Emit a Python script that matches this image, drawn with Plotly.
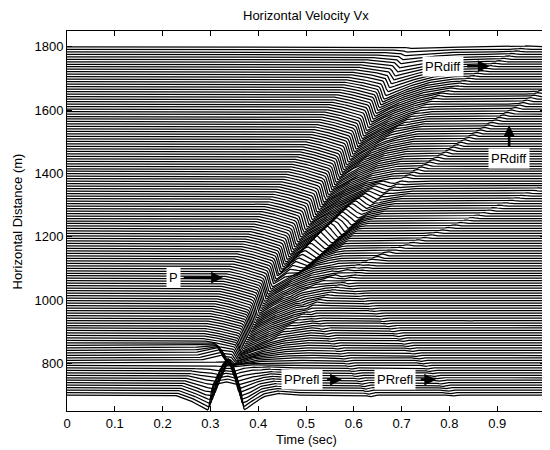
import numpy as np
import plotly.graph_objects as go

# ---------------- values ----------------
TITLE = "Horizontal Velocity Vx"
X_LABEL = "Time (sec)"
Y_LABEL = "Horizontal Distance (m)"
X_TICKS = [0, 0.1, 0.2, 0.3, 0.4, 0.5, 0.6, 0.7, 0.8, 0.9, 1.0]
X_TICK_TEXT = ["0", "0.1", "0.2", "0.3", "0.4", "0.5", "0.6", "0.7", "0.8", "0.9", "1"]
Y_TICKS = [800, 1000, 1200, 1400, 1600, 1800]
Y_TICK_TEXT = ["800", "1000", "1200", "1400", "1600", "1800"]

# receiver traces
TRACE_FIRST = 700.0
TRACE_LAST = 1800.0
TRACE_COUNT = 141
TIME_END = 1.0
TIME_STEP = 0.002

# direct P (above the interface at 800 m): time of the sharp edge per distance
P_DIST = [800, 850, 900, 1000, 1100, 1200, 1300, 1400, 1500, 1600, 1700, 1750, 1780, 1800]
P_TIME = [0.338, 0.350, 0.362, 0.386, 0.416, 0.452, 0.492, 0.537, 0.577, 0.618, 0.660, 0.685, 0.700, 0.712]
P_AMP = [0, 40, 65, 80, 85, 85, 85, 85, 85, 80, 65, 35, 15, 5]

# below the interface: incident and reflected arms
LOW_DIST = [700, 800]
LOW_T_INC = [0.300, 0.338]
LOW_T_REF = [0.366, 0.338]
LOW_AMP_DIST = [700, 750, 785, 800]
LOW_AMP = [50, 46, 32, 0]

# just above the interface: mirrored (up-going) arm
UP_DIST = [800, 860]
UP_T_REFL = [0.338, 0.313]
UP_AMP_DIST = [800, 810, 830, 855, 875]
UP_AMP = [0, 22, 28, 12, 0]

# thinner events: (distance picks, time picks, amplitude picks)
PRDIFF_UP_DIST = [1470, 1620, 1750, 1800]
PRDIFF_UP_TIME = [0.600, 0.750, 0.900, 0.960]
PRDIFF_UP_AMP = [3, 4, 4, 3]

PRDIFF_LO_DIST = [1150, 1320, 1470, 1665]
PRDIFF_LO_TIME = [0.440, 0.640, 0.800, 1.000]
PRDIFF_LO_AMP = [6, 6, 6, 5]

PRDIFF_3_DIST = [1040, 1140, 1240, 1360]
PRDIFF_3_TIME = [0.500, 0.660, 0.820, 1.000]
PRDIFF_3_AMP = [4, 4, 4, 3]

UPLINE_DIST = [890, 1000, 1120, 1240]
UPLINE_TIME = [0.430, 0.530, 0.640, 0.750]
UPLINE_AMP = [4, 4, 3, 2]

PPREFL_DIST = [700, 800, 900, 1000, 1080]
PPREFL_TIME = [0.635, 0.588, 0.540, 0.490, 0.455]
PPREFL_AMP = [-5, -4, -4, -4, -3]

PRREFL_DIST = [700, 800, 900, 1030, 1120]
PRREFL_TIME = [0.805, 0.745, 0.685, 0.600, 0.550]
PRREFL_AMP = [-4, -4, -4, -3, -3]

FAINT1_DIST = [945, 1030, 1113]
FAINT1_TIME = [1.000, 0.860, 0.720]
FAINT1_AMP = [-2.5, -2.5, -2.5]

FAINT2_DIST = [819, 900, 996]
FAINT2_TIME = [1.000, 0.890, 0.757]
FAINT2_AMP = [-2.5, -2.5, -2.5]

FLOWER_DIST = [1130, 1190, 1250, 1320, 1380]
FLOWER_TIME = [0.462, 0.512, 0.562, 0.622, 0.672]
FLOWER_AMP = [15, 45, 50, 38, 10]

# annotations (label, text position, arrow tail, arrow head) in data units
LABELS = [
    ("PRdiff", (0.787, 1739)),
    ("PRdiff", (0.924, 1447)),
    ("P", (0.223, 1071)),
    ("PPrefl", (0.491, 749)),
    ("PRrefl", (0.686, 749)),
]
ARROWS = [
    ((0.834, 1739), (0.884, 1739)),
    ((0.925, 1482), (0.925, 1552)),
    ((0.241, 1071), (0.326, 1071)),
    ((0.541, 749), (0.575, 749)),
    ((0.737, 749), (0.772, 749)),
]

# ---------------- wavelet shapes ----------------
PW_TAU = [-0.085, -0.065, -0.035, -0.004, 0.003, 0.04, 0.09, 0.14]
PW_VAL = [0, -0.06, -0.2, -0.38, -1.0, -0.6, -0.2, 0]
I_TAU = [-0.075, -0.045, -0.02, -0.003, 0.003, 0.03, 0.07]
I_VAL = [0, -0.3, -0.7, -1.0, 0.55, 0.45, 0]
R_TAU = [-0.07, -0.03, -0.003, 0.003, 0.02, 0.045, 0.075, 0.11]
R_VAL = [0, 0.45, 0.55, -1.0, -0.6, -0.1, 0.12, 0]
U_TAU = [-0.06, -0.03, -0.003, 0.003, 0.03, 0.06]
U_VAL = [0, 0.45, 1.0, -0.5, -0.3, 0]
F_TAU = [-0.04, -0.012, 0.012, 0.035, 0.07]
F_VAL = [0, 0.35, -0.65, -0.3, 0]


def shape(tau, kt, kv):
    return np.interp(tau, kt, kv, left=0.0, right=0.0)


def bump(tau, sigma=0.005):
    u = tau / sigma
    return np.exp(-0.5 * u * u)


def event_at(y, dist, times, amps):
    if y < dist[0] - 1e-9 or y > dist[-1] + 1e-9:
        return None
    return float(np.interp(y, dist, times)), float(np.interp(y, dist, amps))


THIN = [
    (PRDIFF_UP_DIST, PRDIFF_UP_TIME, PRDIFF_UP_AMP),
    (PRDIFF_LO_DIST, PRDIFF_LO_TIME, PRDIFF_LO_AMP),
    (PRDIFF_3_DIST, PRDIFF_3_TIME, PRDIFF_3_AMP),
    (UPLINE_DIST, UPLINE_TIME, UPLINE_AMP),
    (PPREFL_DIST, PPREFL_TIME, PPREFL_AMP),
    (PRREFL_DIST, PRREFL_TIME, PRREFL_AMP),
    (FAINT1_DIST, FAINT1_TIME, FAINT1_AMP),
    (FAINT2_DIST, FAINT2_TIME, FAINT2_AMP),
]

t = np.arange(0.0, TIME_END + TIME_STEP / 2, TIME_STEP)
dists = np.linspace(TRACE_FIRST, TRACE_LAST, TRACE_COUNT)
kern = np.exp(-0.5 * (np.arange(-4, 5) / 1.0) ** 2)
kern /= kern.sum()

xs, ys = [], []
for y in dists:
    s = np.zeros_like(t)
    if y < 800:
        ta = float(np.interp(y, LOW_DIST, LOW_T_INC))
        tb = float(np.interp(y, LOW_DIST, LOW_T_REF))
        a = float(np.interp(y, LOW_AMP_DIST, LOW_AMP))
        s += a * (shape(t - ta, I_TAU, I_VAL) + shape(t - tb, R_TAU, R_VAL))
    else:
        ev = event_at(y, P_DIST, P_TIME, P_AMP)
        if ev:
            s += ev[1] * shape(t - ev[0], PW_TAU, PW_VAL)
        if y <= UP_AMP_DIST[-1]:
            tu = float(np.interp(y, UP_DIST, UP_T_REFL))
            au = float(np.interp(y, UP_AMP_DIST, UP_AMP))
            s += au * shape(t - tu, U_TAU, U_VAL)
    ev = event_at(y, FLOWER_DIST, FLOWER_TIME, FLOWER_AMP)
    if ev:
        s += ev[1] * shape(t - ev[0], F_TAU, F_VAL)
    for d, tt, aa in THIN:
        ev = event_at(y, d, tt, aa)
        if ev:
            s += ev[1] * bump(t - ev[0])
    s = np.convolve(s, kern, mode="same")
    xs.extend(t.tolist())
    xs.append(None)
    ys.extend((y + s).tolist())
    ys.append(None)

fig = go.Figure()
fig.add_trace(go.Scatter(x=xs, y=ys, mode="lines",
                         line=dict(color="black", width=1.25),
                         hoverinfo="skip", showlegend=False))

FONT = "Liberation Sans, Arial, Helvetica, sans-serif"
annotations = []
for (tail, head) in ARROWS:
    annotations.append(dict(x=head[0], y=head[1], ax=tail[0], ay=tail[1],
                            xref="x", yref="y", axref="x", ayref="y",
                            text="", showarrow=True, arrowhead=2, arrowsize=0.9,
                            arrowwidth=2.6, arrowcolor="black", standoff=0))
for (txt, pos) in LABELS:
    annotations.append(dict(x=pos[0], y=pos[1], xref="x", yref="y", text=txt,
                            showarrow=False, bgcolor="white", borderpad=2,
                            font=dict(family=FONT, size=13, color="black")))
annotations.append(dict(x=0.5, y=-29 / 380, xref="paper", yref="paper", text=X_LABEL,
                        showarrow=False, xanchor="center", yanchor="middle",
                        font=dict(family=FONT, size=13, color="black")))
annotations.append(dict(x=-50 / 482, y=0.5, xref="paper", yref="paper", text=Y_LABEL,
                        showarrow=False, xanchor="center", yanchor="middle", textangle=-90,
                        font=dict(family=FONT, size=13, color="black")))
annotations.append(dict(x=0.5, y=1 + 15 / 380, xref="paper", yref="paper", text=TITLE,
                        showarrow=False, xanchor="center", yanchor="middle",
                        font=dict(family=FONT, size=13, color="black")))

axis_common = dict(showline=True, linecolor="black", linewidth=1, mirror="ticks",
                   ticks="inside", ticklen=5, tickcolor="black", showgrid=False,
                   zeroline=False, tickfont=dict(family=FONT, size=13, color="black"))
# the page adds an 8 px body margin, so the figure is 8 px smaller than the window
fig.update_layout(
    width=542, height=442,
    margin=dict(l=59, r=1, t=23, b=39),
    paper_bgcolor="white", plot_bgcolor="white",
    showlegend=False,
    annotations=annotations,
    xaxis=dict(range=[0, 1], tickvals=X_TICKS, ticktext=X_TICK_TEXT,
               ticklabeloverflow="allow", **axis_common),
    yaxis=dict(range=[650, 1850], tickvals=Y_TICKS, ticktext=Y_TICK_TEXT, **axis_common),
)
fig.write_html("out.html")
